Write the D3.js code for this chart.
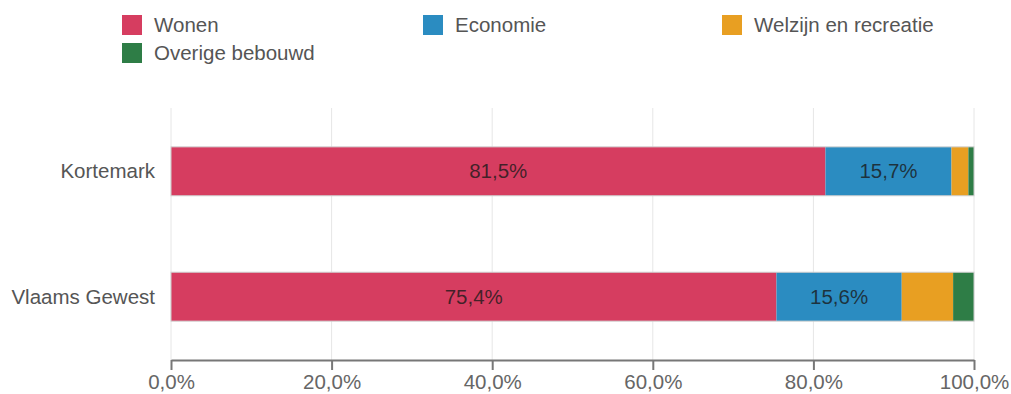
<!DOCTYPE html>
<html><head><meta charset="utf-8">
<script src="https://cdn.jsdelivr.net/npm/d3@7"></script>
<style>body{margin:0;background:#fff;} text{font-family:"Liberation Sans", Arial, sans-serif;}</style>
</head><body>
<svg id="chart" width="1011" height="394"></svg>
<script>
const categories = ["Kortemark", "Vlaams Gewest"];
const seriesNames = ["Wonen", "Economie", "Welzijn en recreatie", "Overige bebouwd"];
const wonen = [81.5, 75.4];
const economie = [15.7, 15.6];
const welzijn = [2.1, 6.4];
const overige = [0.7, 2.6];
const tickValues = [0, 20, 40, 60, 80, 100];
const colors = ["#d63d60", "#2b8cc1", "#e89f22", "#2e7d46"];

const seriesValues = [wonen, economie, welzijn, overige];
const rows = categories.map((c, i) => {
  const r = {cat: c};
  seriesNames.forEach((s, j) => r[s] = seriesValues[j][i]);
  return r;
});

const svg = d3.select("#chart");
const x = d3.scaleLinear().domain([0, 100]).range([171, 974]);
const y = d3.scaleBand().domain(categories).range([108, 360]).paddingInner(0.61).paddingOuter(0.31);

// gridlines
svg.append("g").selectAll("line").data(tickValues).join("line")
  .attr("x1", d => x(d)).attr("x2", d => x(d))
  .attr("y1", 108).attr("y2", 360)
  .attr("stroke", "#e6e6e6").attr("stroke-width", 1);

const stack = d3.stack().keys(seriesNames)(rows);

const g = svg.append("g");
stack.forEach((layer, li) => {
  g.append("g").selectAll("rect").data(layer).join("rect")
    .attr("x", d => x(d[0]))
    .attr("width", d => x(d[1]) - x(d[0]))
    .attr("y", d => y(d.data.cat))
    .attr("height", y.bandwidth())
    .attr("fill", colors[li]);
});
// bar outline
g.append("g").selectAll("rect").data(rows).join("rect")
  .attr("x", x(0)).attr("width", x(100) - x(0))
  .attr("y", d => y(d.cat)).attr("height", y.bandwidth())
  .attr("fill", "none").attr("stroke", "#cfcfcf").attr("stroke-width", 1);

// labels
stack.forEach((layer, li) => {
  g.append("g").selectAll("text").data(layer.filter(d => d[1] - d[0] > 10)).join("text")
    .attr("x", d => (x(d[0]) + x(d[1])) / 2)
    .attr("y", d => y(d.data.cat) + y.bandwidth() / 2)
    .attr("dy", "0.35em")
    .attr("text-anchor", "middle")
    .attr("font-size", 20.5)
    .attr("fill", "#1a1a1a").attr("fill-opacity", 0.8)
    .text(d => (d[1] - d[0]).toFixed(1).replace(".", ",") + "%");
});

// y labels
svg.append("g").selectAll("text").data(categories).join("text")
  .attr("x", 155).attr("y", d => y(d) + y.bandwidth() / 2)
  .attr("dy", "0.35em").attr("text-anchor", "end")
  .attr("font-size", 20.5).attr("fill", "#555")
  .text(d => d);

// x axis
const xAxis = d3.axisBottom(x).tickValues(tickValues)
  .tickFormat(d => d.toFixed(1).replace(".", ",") + "%").tickSize(10).tickSizeOuter(0);
const ax = svg.append("g").attr("transform", "translate(0,360)").call(xAxis);
ax.select(".domain").attr("stroke", "#777").attr("stroke-width", 2);
ax.selectAll(".tick line").attr("stroke", "#777").attr("stroke-width", 2);
ax.selectAll(".tick text").attr("font-size", 20.5).attr("fill", "#666")
  .attr("font-family", "'Liberation Sans', Arial, sans-serif").attr("y", 14);

// legend
const legendPos = [[122, 15], [423, 15], [722, 15], [122, 43]];
const lg = svg.append("g").selectAll("g").data(seriesNames).join("g")
  .attr("transform", (d, i) => `translate(${legendPos[i][0]},${legendPos[i][1]})`);
lg.append("rect").attr("width", 20).attr("height", 20).attr("fill", (d, i) => colors[i]);
lg.append("text").attr("x", 32).attr("y", 10).attr("dy", "0.35em")
  .attr("font-size", 20.5).attr("fill", "#555").text(d => d);
</script>
</body></html>
